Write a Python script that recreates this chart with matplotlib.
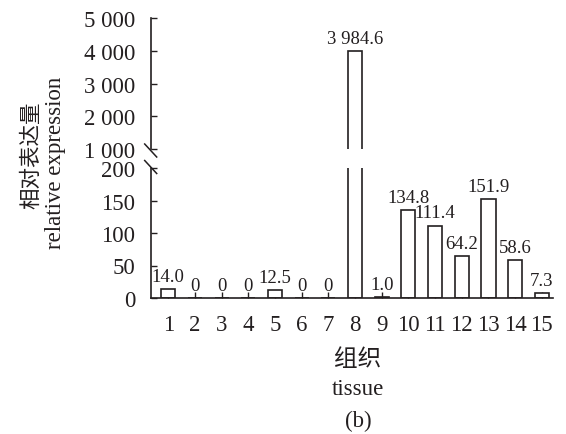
import matplotlib
matplotlib.use("Agg")
import matplotlib.pyplot as plt
from matplotlib.lines import Line2D
from matplotlib.ticker import FixedLocator

plt.rcParams['font.family'] = ['Liberation Serif', 'Noto Sans CJK SC']

# ---- data ----
tissues = list(range(1, 16))
expression = [14.0, 0, 0, 0, 12.5, 0, 0, 3984.6, 1.0, 134.8, 111.4, 64.2, 151.9, 58.6, 7.3]
value_labels = ["14.0", "0", "0", "0", "12.5", "0", "0", "3 984.6", "1.0",
                "134.8", "111.4", "64.2", "151.9", "58.6", "7.3"]
lower_ticks = [0, 50, 100, 150, 200]
upper_ticks = [1000, 2000, 3000, 4000, 5000]
upper_tick_labels = ["1 000", "2 000", "3 000", "4 000", "5 000"]
break_value = 200

W, H = 566, 435
DPI = 100
fig = plt.figure(figsize=(W / DPI, H / DPI), dpi=DPI)
TXT = '#231f20'

def fx(px):
    return px / W

def fy(py):
    return 1 - py / H

left_px, right_px = 150.7, 553.0
ax_lo = fig.add_axes([fx(left_px), fy(299), fx(right_px - left_px), (299 - 169) / H])
ax_up = fig.add_axes([fx(left_px), fy(150), fx(right_px - left_px), (150 - 19.3) / H])

bar_w = 0.53
for ax in (ax_lo, ax_up):
    ax.bar(tissues, expression, width=bar_w, color='white', edgecolor=TXT, linewidth=1.2, zorder=2)
    ax.set_xlim(0.34, 15.42)
    for s in ('top', 'right'):
        ax.spines[s].set_visible(False)
    for s in ('left', 'bottom'):
        ax.spines[s].set_linewidth(1.2)
        ax.spines[s].set_color(TXT)
    ax.tick_params(direction='in', length=4, width=1.0, colors=TXT, labelsize=16.5)
    ax.tick_params(axis='y', pad=11.3)
    ax.patch.set_alpha(0)

ax_lo.set_ylim(0, break_value)
ax_lo.yaxis.set_major_locator(FixedLocator(lower_ticks))
ax_lo.set_xticks(tissues)
ax_lo.set_xticklabels([str(t) for t in tissues])
ax_lo.tick_params(axis='x', pad=11.5)

ax_up.set_ylim(1000, 5000)
ax_up.yaxis.set_major_locator(FixedLocator(upper_ticks))
ax_up.set_yticklabels(upper_tick_labels)
ax_up.spines['bottom'].set_visible(False)
ax_up.tick_params(axis='x', bottom=False, labelbottom=False)

# value labels
for t, v, lab in zip(tissues, expression, value_labels):
    ax = ax_up if v > break_value else ax_lo
    ax.annotate(lab, (t, v), xytext=(0, 6), textcoords='offset points',
                ha='center', va='baseline', fontsize=13.5, color=TXT,
                annotation_clip=False)

# break marks
for cy in (151.5, 168.0):
    fig.add_artist(Line2D([fx(left_px - 6), fx(left_px + 6)], [fy(cy - 6.5), fy(cy + 6.5)],
                          color=TXT, linewidth=1.1))

# axis titles
fig.text(fx(31), fy(155), "相对表达量", rotation=90, ha='center', va='center',
         fontsize=15.5, color=TXT, family=['Noto Sans CJK SC'], fontweight='light')
fig.text(fx(55), fy(163), "relative expression", rotation=90, ha='center', va='center',
         fontsize=16.5, color=TXT)
fig.text(fx(358), fy(360), "组织", ha='center', va='center', fontsize=17, color=TXT,
         family=['Noto Sans CJK SC'], fontweight='light')
fig.text(fx(358), fy(390), "tissue", ha='center', va='center', fontsize=16.5, color=TXT)
fig.text(fx(358), fy(421), "(b)", ha='center', va='center', fontsize=16.5, color=TXT)

fig.savefig("out.png", dpi=DPI)
